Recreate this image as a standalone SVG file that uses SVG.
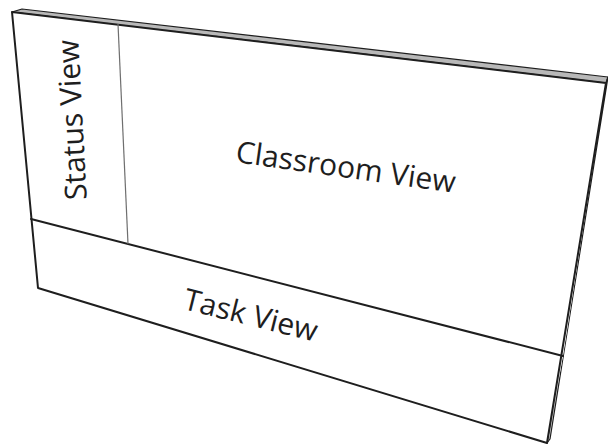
<svg xmlns="http://www.w3.org/2000/svg" width="608" height="445" viewBox="0 0 608 445">
<style>
.region{fill:#ffffff;stroke:none}
.edge{fill:none;stroke:#1e1e1e;stroke-width:2;stroke-linejoin:round;stroke-linecap:round}
.thin{fill:none;stroke:#6e6e6e;stroke-width:1.2}
.slab{stroke:#1e1e1e;stroke-width:1.2;stroke-linejoin:round}
.lbl{font-family:"Open Sans","DejaVu Sans",sans-serif;font-size:30px;fill:#1e1e1e;text-anchor:middle;dominant-baseline:central}
</style>
<rect width="608" height="445" fill="#ffffff"/>
<g id="slab">
<polygon class="slab" points="12,12 22,9 608,77 606,83" fill="#b8b8b8"/>
<polygon class="slab" points="606,83 608,77 550,439 547,443" fill="#d6d6d6"/>
</g>
<g id="status-view">
<polygon class="region" points="12,12 118,24 128,244 31,219"/>
<text class="lbl" transform="translate(71,120) rotate(-93)">Status View</text>
</g>
<g id="classroom-view">
<polygon class="region" points="118,24 606,83 563,356 128,244"/>
<text class="lbl" transform="translate(346,166) rotate(8)">Classroom View</text>
</g>
<g id="task-view">
<polygon class="region" points="31,219 563,356 547,443 38,288"/>
<text class="lbl" transform="translate(251,314) rotate(14)">Task View</text>
</g>
<g id="connectors">
<polygon class="edge" points="12,12 606,83 547,443 38,288"/>
<line class="edge" x1="31" y1="219" x2="563" y2="356"/>
<line class="thin" x1="118" y1="24" x2="128" y2="244"/>
</g>
</svg>
